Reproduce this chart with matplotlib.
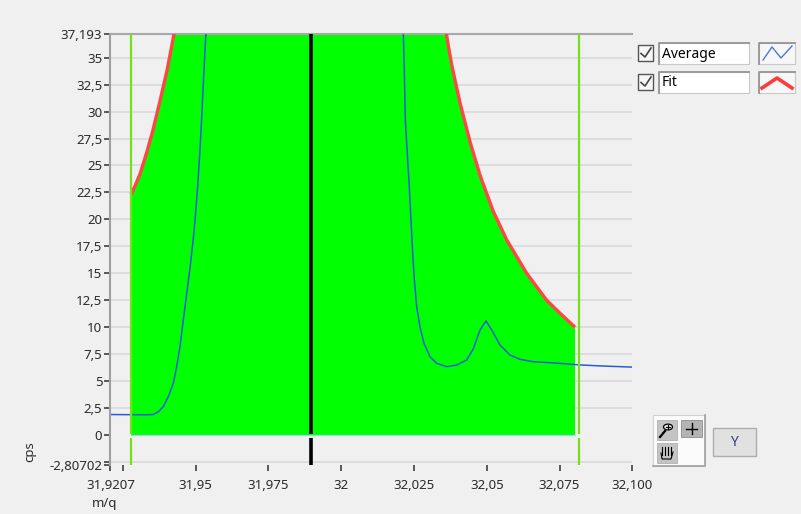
import matplotlib
matplotlib.use('Agg')
import matplotlib.pyplot as plt
from matplotlib.patches import Rectangle, Circle
from matplotlib.lines import Line2D

# ---- data ----
avg_mq = [31.9207, 31.93317, 31.93544, 31.93716, 31.93887, 31.94059, 31.94231,
          31.94348, 31.94461, 31.94575, 31.94691, 31.94805, 31.94918, 31.94977,
          31.95056, 31.95124, 31.95183, 31.95241, 31.9532, 31.95354, 31.96,
          31.99, 32.015, 32.02133, 32.02167, 32.02202, 32.0227, 32.02339,
          32.02397, 32.02456, 32.02511, 32.02593, 32.02707, 32.02844, 32.0305,
          32.0328, 32.03624, 32.03968, 32.04311, 32.04538, 32.04768, 32.04974,
          32.0517, 32.05455, 32.05799, 32.06142, 32.06599, 32.07516, 32.08203,
          32.09004, 32.1]
avg_cps = [1.9, 1.88, 1.9, 2.16, 2.63, 3.55, 4.8,
           6.34, 8.2, 10.67, 13.1, 15.5, 18.2, 19.9,
           22.6, 25.4, 28.2, 31.4, 35.8, 37.26, 60.0,
           150.0, 60.0, 37.26, 33.86, 29.2, 26.1, 23.0,
           19.9, 16.85, 14.4, 11.9, 10.0, 8.5, 7.26,
           6.65, 6.34, 6.5, 6.96, 8.0, 9.74, 10.58,
           9.74, 8.35, 7.42, 7.02, 6.8, 6.65, 6.5,
           6.4, 6.3]

fit_mq = [31.92778, 31.92915, 31.93087, 31.93317, 31.93534, 31.93774, 31.94015,
          31.94255, 31.95, 31.97, 31.9895, 32.01, 32.03, 32.0352,
          32.03659, 32.03806, 32.04082, 32.04424, 32.04768, 32.05215, 32.05685,
          32.06372, 32.07059, 32.07516, 32.08032]
fit_cps = [22.3, 23.1, 24.2, 26.2, 28.3, 31.0, 33.8,
           37.19, 51.0, 172.0, 660.0, 157.0, 49.0, 39.0,
           36.4, 34.2, 30.8, 27.2, 24.1, 20.8, 18.1,
           15.0, 12.5, 11.3, 10.0]

cursor_left = 31.92767
cursor_peak = 31.98952
cursor_right = 32.08159

x_min, x_max = 31.9207, 32.1
y_min, y_max = -2.80702, 37.193
x_ticks = [31.9207, 31.925, 31.95, 31.975, 32.0, 32.025, 32.05, 32.075, 32.1]
x_labels = ['31,9207', '', '31,95', '31,975', '32', '32,025', '32,05', '32,075', '32,100']
y_ticks = [37.193, 35, 32.5, 30, 27.5, 25, 22.5, 20, 17.5, 15, 12.5, 10, 7.5, 5, 2.5,
           0, -2.5, -2.80702]
y_labels = ['37,193', '35', '32,5', '30', '27,5', '25', '22,5', '20', '17,5', '15',
            '12,5', '10', '7,5', '5', '2,5', '0', '', '-2,80702']
grid_y = [35, 32.5, 30, 27.5, 25, 22.5, 20, 17.5, 15, 12.5, 10, 7.5, 5, 2.5, 0, -2.5]

W, H = 801, 514
BG = '#f0f0f0'
plt.rcParams['font.family'] = ['Noto Sans', 'DejaVu Sans']

fig = plt.figure(figsize=(W / 100, H / 100), dpi=100, facecolor=BG)
ax = fig.add_axes([110.4 / W, (H - 465.3) / H, (632.3 - 110.4) / W, (465.3 - 34) / H])
ax.set_facecolor(BG)
ax.set_xlim(x_min, x_max)
ax.set_ylim(y_min, y_max)

for g in grid_y:
    ax.axhline(g, color='#dcdcdc', lw=1.3, zorder=0)

ax.fill_between(fit_mq, 0, fit_cps, color='#00ff00', lw=0, zorder=1)
ax.plot(avg_mq, avg_cps, color='#2a5ad8', lw=1.1, zorder=3)
ax.plot(fit_mq, fit_cps, color='#ff4646', lw=2.4, zorder=3, solid_capstyle='butt')

# cursors
ax.axvline(cursor_left, color='#77e01c', lw=1.6, zorder=4)
ax.axvline(cursor_right, color='#77e01c', lw=1.6, zorder=4)
ax.axvline(cursor_peak, color='black', lw=2.6, zorder=4)

# zero baseline band that cuts the cursors
ax.fill_between([x_min, x_max], -0.3, 0.05, color=BG, lw=0, zorder=5)
ax.fill_between(fit_mq, 0, 0.05, color='#00ff00', lw=0, zorder=5)
ax.plot([fit_mq[0], fit_mq[-1]], [0, 0], color='#9fd4f5', lw=0.9, zorder=6)

ax.set_xticks(x_ticks)
ax.set_xticklabels(x_labels)
ax.set_yticks(y_ticks)
ax.set_yticklabels(y_labels)
ax.tick_params(axis='both', colors='#404040', labelcolor='#2b2b2b', labelsize=9.5,
               length=4.3, width=1.2, direction='out')
ax.tick_params(axis='y', pad=1.5)
ax.tick_params(axis='x', pad=5.5)
for side in ('right', 'bottom'):
    ax.spines[side].set_visible(False)
ax.spines['left'].set_color('#a0a0a0')
ax.spines['left'].set_linewidth(1.5)
ax.spines['top'].set_color('#a8a8a8')
ax.spines['top'].set_linewidth(1.5)
ax.spines['left'].set_zorder(7)

fig.text(105 / W, 1 - 504 / H, 'm/q', ha='center', va='center', fontsize=9.5, color='#2b2b2b')
fig.text(30 / W, 1 - 452 / H, 'cps', ha='center', va='center', rotation=90,
         fontsize=9.5, color='#2b2b2b')


# ---- legend and palette drawn in pixel coords ----
def fx(x):
    return x / W


def fy(y):
    return 1 - y / H


def box(x0, y0, x1, y1, **kw):
    fig.patches.append(Rectangle((fx(x0), fy(y1)), (x1 - x0) / W, (y1 - y0) / H,
                                 transform=fig.transFigure, **kw))


def line(xs, ys, **kw):
    fig.add_artist(Line2D([fx(x) for x in xs], [fy(y) for y in ys],
                          transform=fig.transFigure, **kw))


def sunken(x0, y0, x1, y1, face):
    box(x0, y0, x1, y1, facecolor=face, edgecolor='#c8c8c8', lw=0.8)
    line([x0, x0, x1], [y1, y0, y0], color='#9a9a9a', lw=1.4)


legend = [('Average', 43, 64), ('Fit', 72, 93)]
for name, y0, y1 in legend:
    # checkbox
    box(638, y0 + 2, 653, y1 - 3, facecolor='#f7f7f7', edgecolor='#555555', lw=1.0)
    line([641, 645, 651], [(y0 + y1) / 2, y1 - 7, y0 + 5], color='#444444', lw=1.2)
    # name field
    sunken(659, y0, 749, y1, 'white')
    fig.text(fx(662), fy((y0 + y1) / 2 + 0.5), name, ha='left', va='center',
             fontsize=10, color='black')
    # plot icon
    sunken(759, y0, 795, y1, '#f7f7f7')

line([763, 772, 781, 792], [60, 47, 58, 46], color='#4a78d8', lw=1.0)
line([762, 777, 792], [88, 78, 88], color='#ff3a3a', lw=2.6)

# palette
box(653, 415, 705, 466, facecolor='#fbfbfb', edgecolor='#d0d0d0', lw=0.8)
line([653, 705, 705], [466, 466, 415], color='#a0a0a0', lw=1.2)
box(657, 420, 677, 440, facecolor='#c4c4c4', edgecolor='#b0b0b0', lw=0.6)
fig.patches.append(Circle((fx(668), fy(427)), 4.5 / W, transform=fig.transFigure,
                          facecolor='#e8e8e8', edgecolor='black', lw=0.9))
line([665, 660], [431, 437], color='black', lw=1.6)
line([666, 670], [427, 427], color='black', lw=0.8)
line([668, 668], [425, 429], color='black', lw=0.8)
box(681, 420, 702, 437, facecolor='#b4b4b4', edgecolor='#8c8c8c', lw=0.6)
line([686, 697], [428.5, 428.5], color='black', lw=1.0)
line([691.5, 691.5], [423, 434], color='black', lw=1.0)
box(657, 443, 677, 463, facecolor='#c4c4c4', edgecolor='#b0b0b0', lw=0.6)
for hx in (662, 665, 668, 671):
    line([hx, hx], [447, 455], color='black', lw=0.8)
line([661, 662, 671, 673], [453, 459, 459, 452], color='black', lw=0.8)

box(713, 428, 756, 456, facecolor='#e1e1e1', edgecolor='#adadad', lw=1.0)
fig.text(fx(734.5), fy(442), 'Y', ha='center', va='center', fontsize=10, color='#303a80')

fig.savefig('out.png', dpi=100, facecolor=BG)
